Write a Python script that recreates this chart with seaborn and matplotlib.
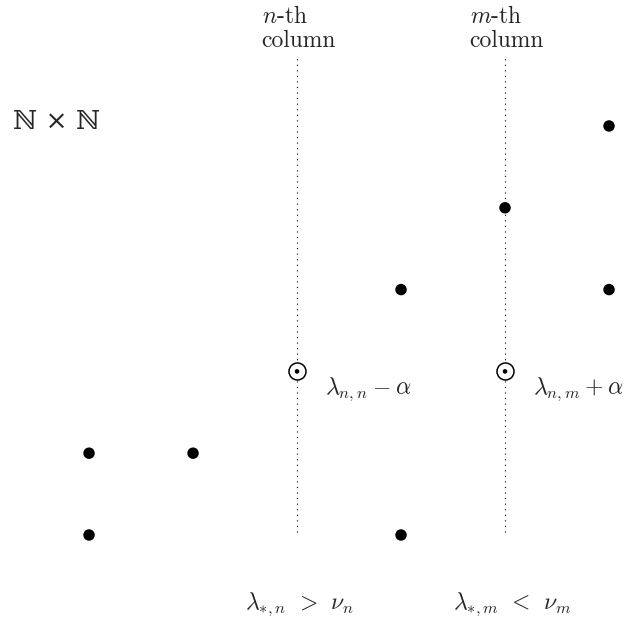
import seaborn as sns
import matplotlib.pyplot as plt
import pandas as pd

# points of the grid (column, row)
dot_col = [1, 1, 2, 4, 4, 5, 6, 6]
dot_row = [1, 2, 2, 1, 4, 5, 6, 4]

# circled points
circ_col = [3, 5]
circ_row = [3, 3]

# columns marked with a dotted line
line_cols = [3, 5]
line_labels = [r"$n$-th" + "\ncolumn", r"$m$-th" + "\ncolumn"]
circ_labels = [r"$\lambda_{n,n}\:-\:\alpha$", r"$\lambda_{n,m}\:+\:\alpha$"]
bottom_labels = [r"$\lambda_{*,n}\;\,>\;\,\nu_n$", r"$\lambda_{*,m}\;\,<\;\,\nu_m$"]

sns.set_style("white")
plt.rcParams['font.family'] = ['cmr10', 'DejaVu Serif']
plt.rcParams['mathtext.fontset'] = 'cm'
plt.rcParams['axes.formatter.use_mathtext'] = True

fig = plt.figure(figsize=(6.24, 6.19), dpi=100)
ax = fig.add_axes([0, 0, 1, 1])

dots = pd.DataFrame({'col': dot_col, 'row': dot_row})
circs = pd.DataFrame({'col': circ_col, 'row': circ_row})

for c in line_cols:
    ax.plot([c, c], [1.04, 6.84], color='black', lw=0.8, ls=(0, (1, 4)))

sns.scatterplot(data=dots, x='col', y='row', color='black', s=68,
                edgecolor='none', ax=ax, zorder=3)
sns.scatterplot(data=circs, x='col', y='row', s=150, facecolor='white',
                edgecolor='black', linewidth=1.1, ax=ax, zorder=3)
sns.scatterplot(data=circs, x='col', y='row', color='black', s=11,
                edgecolor='none', ax=ax, zorder=4)

for c, lab in zip(line_cols, line_labels):
    ax.text(c - 0.34, 7.47, lab, ha='left', va='top', fontsize=17,
            linespacing=1.1)

for c, r, lab in zip(circ_col, circ_row, circ_labels):
    ax.text(c + 0.27, r - 0.22, lab, ha='left', va='center', fontsize=17)

for c, lab in zip(line_cols, bottom_labels):
    ax.text(c - 0.5, 0.15, lab, ha='left', va='center', fontsize=17)

ax.text(0.27, 6.05, "ℕ × ℕ", ha='left', va='center',
        fontsize=19, family=['DejaVu Serif'])

ax.set_xlim(0.144, 6.144)
ax.set_ylim(-0.027, 7.54)
ax.axis('off')

fig.savefig('out.png', dpi=100)
